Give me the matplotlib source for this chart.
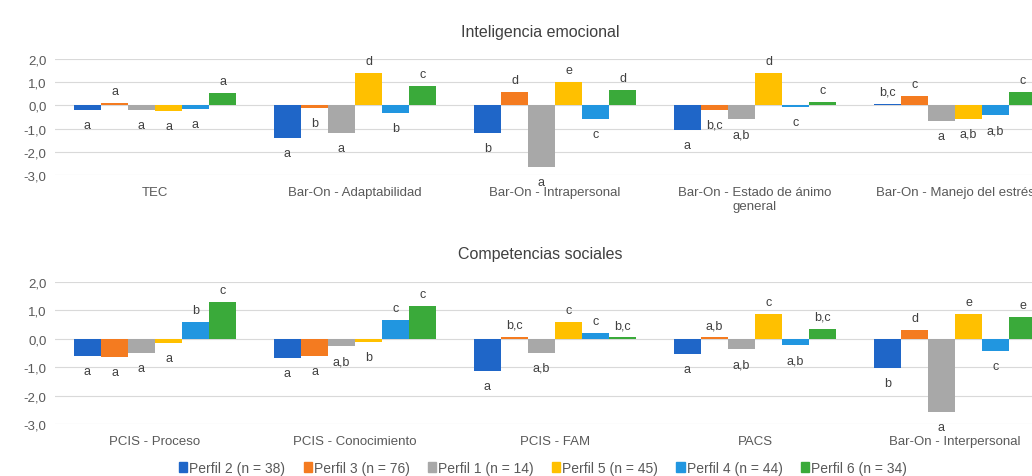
import matplotlib.pyplot as plt
import numpy as np
from matplotlib.patches import Patch

plt.rcParams['font.family'] = ['Liberation Sans', 'DejaVu Sans']

series = ['Perfil 2 (n = 38)', 'Perfil 3 (n = 76)', 'Perfil 1 (n = 14)',
          'Perfil 5 (n = 45)', 'Perfil 4 (n = 44)', 'Perfil 6 (n = 34)']
colors = ['#1F66C8', '#F47B20', '#A8A8A8', '#FFC000', '#2196E0', '#3AAA3A']

# top panel
cats_top = ['TEC', 'Bar-On - Adaptabilidad', 'Bar-On - Intrapersonal',
            'Bar-On - Estado de ánimo\ngeneral', 'Bar-On - Manejo del estrés']
vals_top = [
    [-0.20, -1.40, -1.17, -1.07, 0.07],   # Perfil 2
    [0.12, -0.10, 0.57, -0.18, 0.40],     # Perfil 3
    [-0.18, -1.17, -2.64, -0.60, -0.67],  # Perfil 1
    [-0.25, 1.39, 1.03, 1.39, -0.57],     # Perfil 5
    [-0.15, -0.33, -0.60, -0.05, -0.43],  # Perfil 4
    [0.52, 0.82, 0.67, 0.13, 0.57],       # Perfil 6
]
lab_top = [
    ['a', 'a', 'b', 'a', 'b,c'],
    ['a', 'b', 'd', 'b,c', 'c'],
    ['a', 'a', 'a', 'a,b', 'a'],
    ['a', 'd', 'e', 'd', 'a,b'],
    ['a', 'b', 'c', 'c', 'a,b'],
    ['a', 'c', 'd', 'c', 'c'],
]

# bottom panel
cats_bot = ['PCIS - Proceso', 'PCIS - Conocimiento', 'PCIS - FAM', 'PACS',
            'Bar-On - Interpersonal']
vals_bot = [
    [-0.60, -0.68, -1.12, -0.54, -1.04],
    [-0.63, -0.60, 0.08, 0.05, 0.30],
    [-0.50, -0.26, -0.50, -0.36, -2.56],
    [-0.15, -0.12, 0.58, 0.87, 0.89],
    [0.60, 0.67, 0.20, -0.22, -0.42],
    [1.30, 1.16, 0.05, 0.36, 0.75],
]
lab_bot = [
    ['a', 'a', 'a', 'a', 'b'],
    ['a', 'a', 'b,c', 'a,b', 'd'],
    ['a', 'a,b', 'a,b', 'a,b', 'a'],
    ['a', 'b', 'c', 'c', 'e'],
    ['b', 'c', 'c', 'a,b', 'c'],
    ['c', 'c', 'b,c', 'b,c', 'e'],
]

W, H = 1032, 477
fig = plt.figure(figsize=(W / 100, H / 100), dpi=100)


def panel(y_top, y_bot, cats, vals, labs, title, title_y):
    ax = fig.add_axes([55 / W, 1 - y_bot / H, 1000 / W, (y_bot - y_top) / H])
    x = np.arange(len(cats))
    bw = 0.135
    for i, (v, c) in enumerate(zip(vals, colors)):
        pos = x + (i - 2.5) * bw
        ax.bar(pos, v, bw, color=c, zorder=3)
        for px, pv, t in zip(pos, v, labs[i]):
            dy = 12 if pv >= 0 else -15
            ax.annotate(t, (px, pv), xytext=(0, dy), textcoords='offset pixels',
                        ha='center', va='center', fontsize=9, color='#404040',
                        zorder=4)
    ax.set_xlim(-0.5, len(cats) - 0.5)
    ax.set_ylim(-3, 2)
    ax.set_yticks([2, 1, 0, -1, -2, -3])
    ax.set_yticklabels(['2,0', '1,0', '0,0', '-1,0', '-2,0', '-3,0'])
    ax.set_xticks(x)
    ax.set_xticklabels(cats, va='top')
    ax.tick_params(length=0, labelsize=9.5, colors='#595959', pad=8)
    ax.tick_params(axis='y', pad=6)
    ax.grid(axis='y', color='#D9D9D9', linewidth=0.8, zorder=0)
    for s in ax.spines.values():
        s.set_visible(False)
    fig.text(540 / W, 1 - title_y / H, title, ha='center', va='center',
             fontsize=11.5, color='#404040')
    return ax


panel(60, 176, cats_top, vals_top, lab_top, 'Inteligencia emocional', 32)
panel(283, 425, cats_bot, vals_bot, lab_bot, 'Competencias sociales', 255)

handles = [Patch(color=c, label=s) for c, s in zip(colors, series)]
fig.legend(handles=handles, loc='center', bbox_to_anchor=(543 / W, 1 - 469 / H),
           ncol=6, frameon=False, fontsize=10, handlelength=0.6,
           handleheight=0.7, handletextpad=0.15, columnspacing=1.3,
           labelcolor='#595959', borderpad=0)

fig.savefig('out.png', dpi=100)
